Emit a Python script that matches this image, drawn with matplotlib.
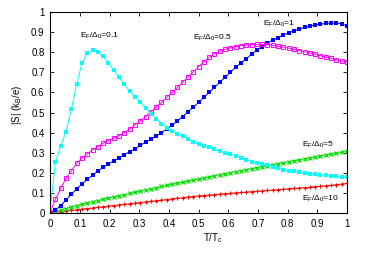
import numpy as np
import matplotlib
matplotlib.use("Agg")
import matplotlib.pyplot as plt

plt.rcParams['font.family'] = ['Liberation Sans', 'DejaVu Sans']
plt.rcParams['mathtext.fontset'] = 'custom'
plt.rcParams['mathtext.rm'] = 'Liberation Sans'
plt.rcParams['mathtext.it'] = 'Liberation Sans'

# T/Tc grid (57 points)
t = np.linspace(0, 1, 57)

s_01 = [0.02, 0.255, 0.333, 0.405, 0.515, 0.64, 0.745, 0.795, 0.81, 0.80,
        0.78, 0.745, 0.71, 0.675, 0.64, 0.607, 0.578, 0.55, 0.522, 0.495,
        0.468, 0.445, 0.425, 0.41, 0.395, 0.385, 0.37, 0.352, 0.343, 0.335,
        0.326, 0.316, 0.308, 0.30, 0.293, 0.285, 0.276, 0.266, 0.256, 0.25,
        0.246, 0.237, 0.229, 0.222, 0.216, 0.211, 0.207, 0.202, 0.198, 0.195,
        0.192, 0.189, 0.187, 0.184, 0.182, 0.18, 0.178]
s_05 = [0.006, 0.068, 0.123, 0.172, 0.21, 0.247, 0.272, 0.294, 0.313, 0.33,
        0.347, 0.36, 0.372, 0.385, 0.40, 0.418, 0.438, 0.458, 0.48, 0.503,
        0.526, 0.55, 0.575, 0.60, 0.625, 0.65, 0.678, 0.703, 0.728, 0.752,
        0.775, 0.792, 0.805, 0.815, 0.822, 0.828, 0.833, 0.836, 0.838, 0.839,
        0.839, 0.837, 0.835, 0.83, 0.825, 0.82, 0.814, 0.808, 0.802, 0.797,
        0.79, 0.783, 0.776, 0.77, 0.763, 0.757, 0.752]
s_1 = [0.005, 0.015, 0.037, 0.065, 0.093, 0.12, 0.144, 0.167, 0.188, 0.208,
       0.227, 0.244, 0.26, 0.275, 0.29, 0.305, 0.32, 0.336, 0.352, 0.367,
       0.383, 0.40, 0.418, 0.437, 0.458, 0.48, 0.503, 0.527, 0.55, 0.575,
       0.60, 0.625, 0.65, 0.675, 0.70, 0.724, 0.746, 0.768, 0.79, 0.81,
       0.828, 0.845, 0.86, 0.873, 0.886, 0.897, 0.907, 0.916, 0.924, 0.93,
       0.936, 0.94, 0.943, 0.945, 0.945, 0.942, 0.93]
s_5 = [0.0, 0.008, 0.015, 0.022, 0.03, 0.037, 0.044, 0.05, 0.056, 0.062,
       0.068, 0.074, 0.08, 0.086, 0.091, 0.097, 0.103, 0.109, 0.115, 0.12,
       0.126, 0.132, 0.137, 0.143, 0.148, 0.153, 0.159, 0.164, 0.169, 0.175,
       0.18, 0.185, 0.19, 0.195, 0.2, 0.206, 0.211, 0.216, 0.221, 0.226,
       0.231, 0.236, 0.241, 0.246, 0.25, 0.255, 0.26, 0.265, 0.27, 0.274,
       0.279, 0.284, 0.288, 0.293, 0.297, 0.302, 0.306]
s_10 = [0.0, 0.004, 0.007, 0.01, 0.013, 0.016, 0.019, 0.022, 0.025, 0.028,
        0.031, 0.034, 0.037, 0.04, 0.043, 0.046, 0.049, 0.052, 0.055, 0.058,
        0.061, 0.064, 0.067, 0.07, 0.073, 0.076, 0.079, 0.082, 0.085, 0.087,
        0.089, 0.091, 0.094, 0.096, 0.098, 0.1, 0.102, 0.104, 0.106, 0.108,
        0.11, 0.112, 0.114, 0.116, 0.118, 0.12, 0.122, 0.124, 0.126, 0.128,
        0.131, 0.133, 0.135, 0.138, 0.141, 0.144, 0.147]

fig = plt.figure(figsize=(3.66, 2.56), dpi=100)
ax = fig.add_axes([0.137, 0.168, 0.811, 0.785])

lw = 0.7
ms = 2.6
ax.plot(t, s_10, color='#ff0000', lw=lw, marker='+', ms=3.5, mew=0.8)
ax.plot(t, s_5, color='#00e000', lw=lw, marker='x', ms=3.0, mew=0.9)
ax.plot(t, s_1, color='#0000ff', lw=lw, marker='s', ms=ms, mew=0)
ax.plot(t, s_05, color='#ff00ff', lw=lw, marker='s', ms=ms + 0.3, mew=0.7,
        mfc='none')
ax.plot(t, s_01, color='#00ffff', lw=lw, marker='s', ms=ms, mew=0)

fs = 6
ax.text(0.1, 0.87, r'E$_F$/$\Delta_0$=0.1', fontsize=fs)
ax.text(0.48, 0.86, r'E$_F$/$\Delta_0$=0.5', fontsize=fs)
ax.text(0.717, 0.93, r'E$_F$/$\Delta_0$=1', fontsize=fs)
ax.text(0.85, 0.33, r'E$_F$/$\Delta_0$=5', fontsize=fs)
ax.text(0.85, 0.06, r'E$_F$/$\Delta_0$=10', fontsize=fs)

ax.set_xlim(0, 1)
ax.set_ylim(0, 1)
ax.set_xticks(np.arange(0, 1.01, 0.1))
ax.set_yticks(np.arange(0, 1.01, 0.1))
ax.set_xticklabels(['0', '0.1', '0.2', '0.3', '0.4', '0.5', '0.6', '0.7', '0.8', '0.9', '1'])
ax.set_yticklabels(['0', '0.1', '0.2', '0.3', '0.4', '0.5', '0.6', '0.7', '0.8', '0.9', '1'])
ax.tick_params(direction='in', top=True, right=True, labelsize=7, length=3, width=0.6, pad=4)
for sp in ax.spines.values():
    sp.set_linewidth(0.8)

ax.set_xlabel(r'T/T$_c$', fontsize=7, labelpad=2, x=0.55)
ax.set_ylabel(r'|S| (k$_B$/e)', fontsize=7, labelpad=5, y=0.54)

fig.savefig('out.png', dpi=100)
